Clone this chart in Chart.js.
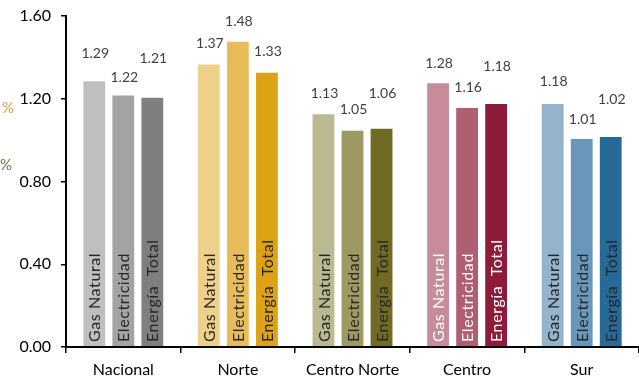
<!DOCTYPE html>
<html>
<head>
<meta charset="utf-8">
<script src="https://cdn.jsdelivr.net/npm/chart.js@4"></script>
<style>
  html, body { margin: 0; padding: 0; background: #fff; }
  #wrap { width: 639px; height: 379px; position: relative; }
</style>
</head>
<body>
<div id="wrap"><canvas id="grafica"></canvas></div>
<script>
// categorias y series
var regiones = ['Nacional', 'Norte', 'Centro Norte', 'Centro', 'Sur'];
var series = ['Gas Natural', 'Electricidad', 'Energía  Total'];
var gasNatural = [1.29, 1.37, 1.13, 1.28, 1.18];
var electricidad = [1.22, 1.48, 1.05, 1.16, 1.01];
var energiaTotal = [1.21, 1.33, 1.06, 1.18, 1.02];
var yTicks = [0, 0.4, 0.8, 1.2, 1.6];

// colores por region (claro, medio, oscuro)
var colores = [
    ['#BFBFBF', '#A3A3A3', '#7F7F7F'],
    ['#EFD08B', '#E8BC5A', '#DEA315'],
    ['#BBB991', '#9C9A62', '#706A25'],
    ['#C88B9A', '#B05E72', '#8E1B3C'],
    ['#93B4CB', '#6897B9', '#276A98']
];
var colorTextoInterno = ['#262626', '#262626', '#262626', '#ffffff', '#262626'];
// separacion de la etiqueta de valor respecto a la barra (px)
var alzaEtiqueta = [
    [27, 20, 20, 19, 21],
    [17, 19, 20, 20, 19],
    [38, 20, 34, 36, 37]
];

var fuente = 'Lato, "Open Sans", sans-serif';

function coloresSerie(i) {
    return colores.map(function(c) { return c[i]; });
}

var etiquetasPlugin = {
    id: 'etiquetas',
    afterDatasetsDraw: function(chart) {
        var ctx = chart.ctx;
        var base = chart.scales.y.getPixelForValue(0);
        chart.data.datasets.forEach(function(ds, i) {
            var meta = chart.getDatasetMeta(i);
            meta.data.forEach(function(bar, j) {
                // valor encima de la barra
                ctx.save();
                ctx.font = '14px ' + fuente;
                ctx.fillStyle = '#404040';
                ctx.textAlign = 'center';
                ctx.textBaseline = 'middle';
                ctx.fillText(ds.data[j].toFixed(2), bar.x + 1, bar.y - alzaEtiqueta[i][j]);
                ctx.restore();

                // nombre de la serie dentro de la barra
                ctx.save();
                ctx.translate(bar.x + 1, base - 5);
                ctx.rotate(-Math.PI / 2);
                ctx.font = '16px ' + fuente;
                ctx.letterSpacing = '0.6px';
                ctx.fillStyle = colorTextoInterno[j];
                ctx.textAlign = 'left';
                ctx.textBaseline = 'middle';
                ctx.fillText(ds.label, 0, 0);
                ctx.restore();
            });
        });

        // restos de texto cortado a la izquierda
        ctx.save();
        ctx.font = '15px ' + fuente;
        ctx.textAlign = 'right';
        ctx.textBaseline = 'middle';
        ctx.fillStyle = '#D7A236';
        ctx.fillText('%', 14, 108);
        ctx.fillStyle = '#5F7D42';
        ctx.fillText('%', 12, 165);
        ctx.restore();
    }
};

var ctx = document.getElementById('grafica').getContext('2d');
var datos = [gasNatural, electricidad, energiaTotal];

var grafica = new Chart(ctx, {
    type: 'bar',
    data: {
        labels: regiones,
        datasets: datos.map(function(d, i) {
            return {
                label: series[i],
                data: d,
                backgroundColor: coloresSerie(i),
                borderColor: 'rgba(255,255,255,0.55)',
                borderWidth: 1,
                categoryPercentage: 0.76,
                barPercentage: 0.82
            };
        })
    },
    options: {
        responsive: true,
        maintainAspectRatio: false,
        animation: false,
        layout: { padding: { top: 16, right: 0, left: 0, bottom: 0 } },
        plugins: {
            legend: { display: false },
            tooltip: { enabled: false }
        },
        scales: {
            x: {
                grid: {
                    offset: true,
                    drawOnChartArea: false,
                    drawTicks: true,
                    tickLength: 6,
                    color: '#000',
                    lineWidth: 1.5
                },
                border: { color: '#000', width: 2 },
                ticks: {
                    color: '#000',
                    padding: 7,
                    maxRotation: 0,
                    font: { family: fuente, size: 16 }
                },
                afterFit: function(scale) { scale.height = 32; }
            },
            y: {
                min: 0,
                max: 1.6,
                afterBuildTicks: function(scale) {
                    scale.ticks = yTicks.map(function(v) { return { value: v }; });
                },
                grid: {
                    drawOnChartArea: false,
                    drawTicks: true,
                    tickLength: 5,
                    color: '#000',
                    lineWidth: 1.5
                },
                border: { color: '#000', width: 2 },
                ticks: {
                    color: '#000',
                    padding: 10,
                    font: { family: fuente, size: 16 },
                    callback: function(v) { return Number(v).toFixed(2); }
                },
                afterFit: function(scale) {
                    scale.width = 66;
                    scale.paddingTop = 0;
                    scale.paddingBottom = 0;
                }
            }
        }
    },
    plugins: [etiquetasPlugin]
});
</script>
</body>
</html>
